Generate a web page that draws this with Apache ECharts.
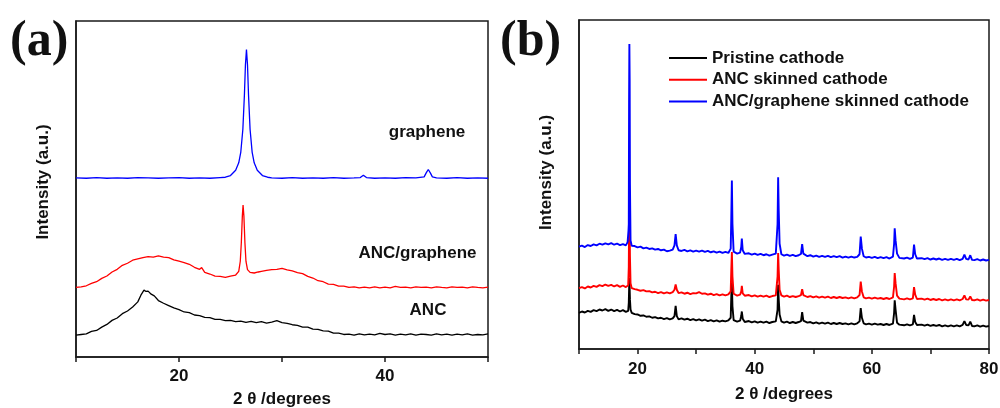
<!DOCTYPE html>
<html>
<head>
<meta charset="utf-8">
<script src="https://cdn.jsdelivr.net/npm/echarts@6/dist/echarts.min.js"></script>
<style>html,body{margin:0;padding:0;background:#fff;}#c{width:1000px;height:408px;}</style>
</head>
<body>
<div id="c"></div>
<script>
// ---- Panel (a) data: [2theta, intensity (a.u., offset)] ----
const ancA = [[10,6.5],[10.5,6.7],[11,6.9],[11.5,7.6],[12,7.9],[12.5,8.9],[13,9.7],[13.5,10.9],[14,11.6],[14.5,12.9],[15,13.7],[15.5,14.9],[16,16.4],[16.3,18.4],[16.6,19.9],[16.8,19.5],[17,19.6],[17.3,18.7],[17.6,18.2],[18,16.8],[18.5,16.0],[19,15.3],[19.5,14.6],[20,14.1],[20.5,13.4],[21,13.2],[21.5,12.5],[22,12.3],[22.5,11.8],[23,11.7],[23.5,11.2],[24,11.2],[24.5,10.8],[25,10.9],[25.5,10.5],[26,10.7],[26.5,10.3],[27,10.6],[27.5,10.2],[28,10.5],[28.5,10.1],[29,10.4],[29.5,10.8],[30,10.2],[30.5,10.0],[31,9.6],[31.5,9.4],[32,8.9],[32.5,8.9],[33,8.3],[33.5,8.2],[34,7.8],[34.5,7.7],[35,7.1],[35.5,7.1],[36,6.7],[36.5,6.8],[37,6.5],[37.5,6.9],[38,6.6],[38.5,6.8],[39,6.6],[39.5,7.0],[40,6.7],[40.5,6.9],[41,6.5],[41.5,6.8],[42,6.6],[42.5,6.9],[43,6.5],[43.5,6.8],[44,6.7],[44.5,6.5],[45,6.9],[45.5,6.6],[46,6.8],[46.5,6.5],[47,6.8],[47.5,6.6],[48,6.9],[48.5,6.5],[49,6.7],[49.5,6.6],[50,6.9]];
const ancGrapheneA = [[10,20.7],[10.5,20.9],[11,21.2],[11.5,21.9],[12,22.4],[12.5,23.4],[13,24.1],[13.5,25.3],[14,26.1],[14.5,27.3],[15,27.9],[15.5,28.8],[16,29.2],[16.5,29.6],[17,29.9],[17.5,29.7],[18,30.1],[18.5,29.7],[19,29.6],[19.5,28.9],[20,28.5],[20.5,28.1],[21,27.6],[21.5,26.7],[22,26.1],[22.2,26.6],[22.5,25.2],[23,24.7],[23.5,24.1],[24,24.0],[24.5,23.7],[25,24.1],[25.5,24.4],[25.8,25.5],[25.95,28.5],[26.05,34],[26.15,42],[26.22,45.2],[26.3,42],[26.4,34],[26.5,28.5],[26.65,26],[26.9,25.2],[27.3,25.0],[27.7,25.3],[28,25.5],[28.5,25.8],[29,26.0],[29.5,26.1],[30,26.4],[30.5,25.9],[31,25.6],[31.5,25.1],[32,24.8],[32.5,24.0],[33,23.5],[33.5,22.7],[34,22.4],[34.5,21.7],[35,21.6],[35.5,21.1],[36,21.1],[36.5,20.7],[37,20.9],[37.5,20.6],[38,20.8],[38.5,20.6],[39,20.9],[39.5,20.6],[40,20.8],[40.5,20.6],[41,21.0],[41.5,20.7],[42,20.8],[42.5,20.6],[43,20.9],[43.5,20.7],[44,20.8],[44.5,20.6],[45,20.9],[45.5,20.7],[46,20.6],[46.5,20.9],[47,20.7],[47.5,20.8],[48,20.6],[48.5,20.9],[49,20.7],[49.5,20.6],[50,20.8]];
const grapheneA = [[10,53.3],[11,53.2],[12,53.4],[13,53.2],[14,53.3],[15,53.2],[16,53.4],[17,53.3],[18,53.2],[19,53.3],[20,53.4],[21,53.2],[22,53.3],[23,53.2],[24,53.4],[24.5,53.5],[25,54.0],[25.5,55.6],[25.8,57.8],[26.0,61],[26.2,67.8],[26.35,78],[26.45,87],[26.55,91.5],[26.65,87],[26.75,78],[26.9,67.8],[27.1,61],[27.3,57.8],[27.6,55.6],[28.1,54.0],[28.6,53.5],[29,53.3],[30,53.2],[31,53.4],[32,53.2],[33,53.3],[34,53.2],[35,53.4],[36,53.2],[37,53.3],[37.6,53.4],[37.9,54.1],[38.2,53.4],[39,53.2],[40,53.3],[41,53.2],[42,53.4],[43,53.3],[43.8,53.6],[44.0,54.8],[44.2,55.8],[44.4,54.8],[44.6,53.6],[45,53.3],[46,53.2],[47,53.4],[48,53.2],[49,53.3],[50,53.2]];

// ---- Panel (b) data ----
const pristineB = [[10,11.0],[10.5,11.4],[11,11.1],[11.5,11.6],[12,11.3],[12.5,11.8],[13,11.5],[13.5,12.0],[14,11.7],[14.5,12.1],[15,11.6],[15.5,12.0],[16,11.5],[16.5,11.9],[17,11.4],[17.5,11.8],[18,11.3],[18.4,11.6],[18.5,14],[18.6,21.6],[18.7,15],[18.8,12],[19,11.0],[19.5,10.6],[20,10.5],[20.5,10.1],[21,10.2],[21.5,9.8],[22,9.9],[22.5,9.5],[23,9.7],[23.5,9.3],[24,9.5],[24.5,9.1],[25,9.4],[25.5,9.0],[26,9.3],[26.3,10],[26.5,13.1],[26.7,10],[27,9.0],[27.5,9.3],[28,8.9],[28.5,9.2],[29,8.8],[29.5,9.1],[30,8.7],[30.5,9.0],[31,8.6],[31.5,8.9],[32,8.5],[32.5,8.8],[33,8.4],[33.5,8.7],[34,8.3],[34.5,8.6],[35,8.4],[35.5,8.7],[35.9,9.5],[36.0,16],[36.1,20.1],[36.2,13],[36.4,8.8],[37,8.3],[37.5,8.6],[37.7,10],[37.8,11.4],[37.95,9.2],[38.3,8.2],[39,8.5],[39.5,8.1],[40,8.4],[40.5,8.0],[41,8.3],[41.5,8.0],[42,8.3],[42.5,7.9],[43,8.2],[43.6,8.4],[43.9,12],[44.0,19.5],[44.1,15],[44.25,10.5],[44.55,8.4],[45,8.0],[45.5,8.3],[46,7.9],[46.5,8.2],[47,7.9],[47.5,8.2],[47.9,8.5],[48.1,11.2],[48.3,8.6],[49,8.0],[49.5,8.2],[50,7.8],[50.5,8.1],[51,7.7],[51.5,8.0],[52,7.7],[52.5,8.0],[53,7.6],[53.5,7.9],[54,7.6],[54.5,7.9],[55,7.6],[55.5,7.8],[56,7.5],[56.5,7.8],[57,7.5],[57.5,7.8],[57.9,8.4],[58.1,12.4],[58.3,9.5],[58.6,7.8],[59,7.5],[59.5,7.7],[60,7.4],[60.5,7.7],[61,7.4],[61.5,7.6],[62,7.3],[62.5,7.6],[63,7.3],[63.6,7.7],[63.8,11],[63.9,14.8],[64.05,12],[64.3,8.0],[64.7,7.4],[65,7.6],[65.5,7.2],[66,7.5],[66.5,7.2],[67,7.5],[67.2,10.4],[67.4,8.2],[67.7,7.3],[68,7.1],[68.5,7.4],[69,7.1],[69.5,7.4],[70,7.0],[70.5,7.3],[71,7.0],[71.5,7.3],[72,6.9],[72.5,7.2],[73,6.9],[73.5,7.2],[74,6.9],[74.5,7.2],[75,6.9],[75.5,7.3],[75.8,8.5],[76.1,7.3],[76.5,7.2],[76.8,8.3],[77.1,7.0],[77.5,6.9],[78,7.2],[78.5,6.8],[79,7.1],[79.5,6.8],[80,7.0]];
const ancSkinnedB = [[10,18.5],[10.5,18.8],[11,18.4],[11.5,19.0],[12,18.7],[12.5,19.2],[13,18.9],[13.5,19.4],[14,19.1],[14.5,19.6],[15,19.2],[15.5,19.5],[16,19.0],[16.5,19.4],[17,18.9],[17.5,19.3],[18,18.8],[18.4,19.4],[18.5,25],[18.6,48.4],[18.7,28],[18.8,20],[19,18.5],[19.5,18.2],[20,18.0],[20.5,17.7],[21,17.9],[21.5,17.5],[22,17.6],[22.5,17.2],[23,17.4],[23.5,17.0],[24,17.3],[24.5,16.9],[25,17.2],[25.5,16.9],[26,17.3],[26.3,18],[26.5,19.6],[26.7,18],[27,17.0],[27.5,17.2],[28,16.8],[28.5,17.1],[29,16.7],[29.5,17.0],[30,16.9],[30.5,17.3],[31,16.8],[31.5,16.9],[32,16.5],[32.5,16.8],[33,16.4],[33.5,16.7],[34,16.3],[34.5,16.6],[35,16.3],[35.5,16.6],[35.9,17.5],[36.0,24],[36.1,29.5],[36.2,22],[36.4,16.8],[37,16.2],[37.5,16.5],[37.7,17.5],[37.8,19.2],[37.95,16.9],[38.3,16.2],[39,16.4],[39.5,16.0],[40,16.3],[40.5,15.9],[41,16.2],[41.5,15.9],[42,16.2],[42.5,15.8],[43,16.1],[43.6,16.3],[43.9,22],[44.0,29.2],[44.1,24],[44.25,18],[44.55,16.3],[45,15.9],[45.5,16.2],[46,15.8],[46.5,16.1],[47,15.8],[47.5,16.1],[47.9,16.4],[48.1,18.2],[48.3,16.4],[49,15.8],[49.5,16.1],[50,15.7],[50.5,16.0],[51,15.6],[51.5,15.9],[52,15.6],[52.5,15.9],[53,15.5],[53.5,15.8],[54,15.5],[54.5,15.8],[55,15.5],[55.5,15.7],[56,15.4],[56.5,15.7],[57,15.4],[57.5,15.7],[57.9,16.4],[58.1,20.5],[58.3,17.5],[58.6,15.7],[59,15.4],[59.5,15.6],[60,15.3],[60.5,15.6],[61,15.3],[61.5,15.5],[62,15.2],[62.5,15.5],[63,15.2],[63.6,15.7],[63.8,19],[63.9,23.1],[64.05,20],[64.3,16.2],[64.7,15.3],[65,15.5],[65.5,15.1],[66,15.4],[66.5,15.1],[67,15.4],[67.2,18.8],[67.4,16.5],[67.7,15.2],[68,15.0],[68.5,15.3],[69,15.0],[69.5,15.3],[70,14.9],[70.5,15.2],[71,14.9],[71.5,15.2],[72,14.8],[72.5,15.1],[73,14.8],[73.5,15.1],[74,14.8],[74.5,15.1],[75,14.8],[75.5,15.2],[75.8,16.3],[76.1,15.1],[76.5,15.0],[76.8,16.0],[77.1,14.9],[77.5,14.8],[78,15.1],[78.5,14.7],[79,15.0],[79.5,14.7],[80,14.9]];
const ancGrapheneSkinnedB = [[10,31.1],[10.5,31.4],[11,31.0],[11.5,31.6],[12,31.3],[12.5,31.8],[13,31.5],[13.5,32.0],[14,31.7],[14.5,32.1],[15,31.8],[15.5,32.2],[16,31.7],[16.5,32.0],[17,31.6],[17.5,31.9],[18,31.5],[18.3,32.5],[18.45,36],[18.5,38],[18.55,75],[18.6,92.7],[18.65,82],[18.7,50],[18.8,33],[19,31.4],[19.5,31.3],[20,30.9],[20.5,31.1],[21,30.6],[21.5,30.8],[22,30.4],[22.5,30.6],[23,30.2],[23.5,30.4],[24,30.0],[24.5,30.2],[25,29.7],[25.5,29.9],[26,30.2],[26.3,31.5],[26.5,34.9],[26.7,31.5],[27,30.0],[27.5,29.8],[28,30.1],[28.5,29.7],[29,30.0],[29.5,29.6],[30,29.9],[30.5,29.6],[31,29.9],[31.5,29.5],[32,29.8],[32.5,29.4],[33,29.7],[33.5,29.3],[34,29.6],[34.5,29.2],[35,29.5],[35.5,29.2],[35.9,30.5],[36.0,40],[36.1,51.2],[36.2,38],[36.4,29.6],[37,29.0],[37.5,29.3],[37.7,31],[37.8,33.6],[37.95,30],[38.3,28.9],[39,29.1],[39.5,28.7],[40,29.0],[40.5,28.6],[41,28.9],[41.5,28.5],[42,28.8],[42.5,28.4],[43,28.7],[43.6,29.0],[43.9,38],[44.0,52.2],[44.1,42],[44.25,32],[44.55,28.8],[45,28.4],[45.5,28.7],[46,28.3],[46.5,28.6],[47,28.2],[47.5,28.5],[47.9,28.9],[48.1,31.9],[48.3,29.0],[49,28.2],[49.5,28.5],[50,28.1],[50.5,28.4],[51,28.0],[51.5,28.3],[52,28.0],[52.5,28.3],[53,27.9],[53.5,28.2],[54,27.9],[54.5,28.2],[55,27.8],[55.5,28.1],[56,27.8],[56.5,28.1],[57,27.8],[57.5,28.0],[57.9,28.8],[58.1,34.2],[58.3,30.5],[58.6,28.2],[59,27.8],[59.5,28.0],[60,27.7],[60.5,28.0],[61,27.6],[61.5,27.9],[62,27.6],[62.5,27.9],[63,27.5],[63.6,28.1],[63.8,32],[63.9,36.7],[64.05,33],[64.3,29],[64.7,27.7],[65,27.9],[65.5,27.5],[66,27.8],[66.5,27.4],[67,27.8],[67.2,31.7],[67.4,28.8],[67.7,27.5],[68,27.3],[68.5,27.6],[69,27.3],[69.5,27.6],[70,27.2],[70.5,27.5],[71,27.2],[71.5,27.5],[72,27.1],[72.5,27.4],[73,27.1],[73.5,27.4],[74,27.1],[74.5,27.4],[75,27.0],[75.5,27.4],[75.8,28.7],[76.1,27.4],[76.5,27.2],[76.8,28.5],[77.1,27.1],[77.5,27.0],[78,27.3],[78.5,26.9],[79,27.2],[79.5,26.9],[80,27.1]];

const seriesNamesB = ['Pristine cathode', 'ANC skinned cathode', 'ANC/graphene skinned cathode'];
const labeledTicks = [20, 40, 60, 80];

const FONT = 'Liberation Sans, Arial, sans-serif';
const AX = '#1a1a1a';

function xAxisCfg(gridIndex, min, max, margin, gap) {
  return {
    type: 'value', gridIndex, min, max, interval: 10,
    axisLine: { show: true, onZero: false, lineStyle: { color: AX, width: 1.5 } },
    axisTick: { show: true, inside: false, length: 5, lineStyle: { color: AX, width: 1.5 } },
    axisLabel: {
      margin, color: '#111', fontFamily: FONT, fontWeight: 'bold', fontSize: 17,
      formatter: v => labeledTicks.indexOf(v) >= 0 ? String(v) : ''
    },
    splitLine: { show: false },
    name: '2 \u03b8 /degrees', nameLocation: 'middle', nameGap: gap,
    nameTextStyle: { color: '#111', fontFamily: FONT, fontWeight: 'bold', fontSize: 17 }
  };
}
function yAxisCfg(gridIndex, gap, pad) {
  return {
    type: 'value', gridIndex, min: 0, max: 100,
    axisLine: { show: true, lineStyle: { color: AX, width: 1.5 } },
    axisTick: { show: false }, axisLabel: { show: false }, splitLine: { show: false },
    name: 'Intensity (a.u.)', nameLocation: 'middle', nameGap: gap,
    nameTextStyle: { color: '#111', fontFamily: FONT, fontWeight: 'bold', fontSize: 17, padding: pad }
  };
}
function line(name, data, color, xi, w) {
  return { name, type: 'line', xAxisIndex: xi, yAxisIndex: xi, data, showSymbol: false, symbol: 'none',
    lineStyle: { color, width: w }, itemStyle: { color }, animation: false, z: 3 };
}

const chart = echarts.init(document.getElementById('c'), null, { renderer: 'canvas' });
chart.setOption({
  backgroundColor: '#fff',
  animation: false,
  grid: [
    { left: 76, top: 21, width: 412, height: 336, show: true, borderColor: AX, borderWidth: 1.5, containLabel: false, outerBoundsMode: 'none' },
    { left: 579, top: 20, width: 410, height: 329, show: true, borderColor: AX, borderWidth: 1.5, containLabel: false, outerBoundsMode: 'none' }
  ],
  xAxis: [ xAxisCfg(0, 10, 50, 11, 34), xAxisCfg(1, 10, 80, 12, 37) ],
  yAxis: [ yAxisCfg(0, 24, [0,0,0,14]), yAxisCfg(1, 24, [0,0,0,24]) ],
  legend: {
    data: seriesNamesB, orient: 'vertical', left: 669, top: 49.5, itemGap: 4.7, padding: 0,
    icon: 'rect', itemWidth: 38, itemHeight: 2,
    textStyle: { color: '#111', fontFamily: FONT, fontWeight: 'bold', fontSize: 17 }
  },
  graphic: [
    { type: 'text', x: 10, y: 42, style: { text: '(a)', font: 'bold 50px "Liberation Serif", "Times New Roman", serif', fill: '#111', verticalAlign: 'middle' } },
    { type: 'text', x: 500, y: 42, style: { text: '(b)', font: 'bold 50px "Liberation Serif", "Times New Roman", serif', fill: '#111', verticalAlign: 'middle' } },
    { type: 'text', x: 427, y: 132, style: { text: 'graphene', font: 'bold 17px "Liberation Sans", Arial, sans-serif', fill: '#111', align: 'center', verticalAlign: 'middle' } },
    { type: 'text', x: 417.5, y: 253, style: { text: 'ANC/graphene', font: 'bold 17px "Liberation Sans", Arial, sans-serif', fill: '#111', align: 'center', verticalAlign: 'middle' } },
    { type: 'text', x: 428, y: 310, style: { text: 'ANC', font: 'bold 17px "Liberation Sans", Arial, sans-serif', fill: '#111', align: 'center', verticalAlign: 'middle' } }
  ],
  series: [
    line('ANC', ancA, '#000000', 0, 1.3),
    line('ANC/graphene', ancGrapheneA, '#ff0000', 0, 1.3),
    line('graphene', grapheneA, '#0000ff', 0, 1.3),
    line(seriesNamesB[0], pristineB, '#000000', 1, 1.9),
    line(seriesNamesB[1], ancSkinnedB, '#ff0000', 1, 1.9),
    line(seriesNamesB[2], ancGrapheneSkinnedB, '#0000ff', 1, 1.9)
  ]
});
</script>
</body>
</html>
